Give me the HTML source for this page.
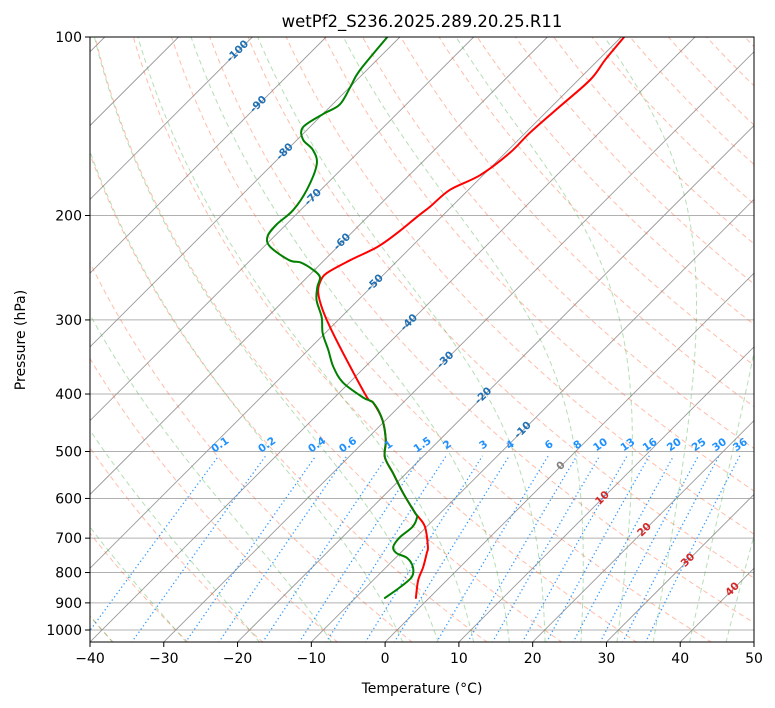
<!DOCTYPE html>
<html><head><meta charset="utf-8"><style>
body{margin:0;background:#fff;}
svg{display:block;font-family:"DejaVu Sans","Liberation Sans",sans-serif;}
</style></head><body>
<svg id="chart" width="775" height="708" viewBox="0 0 775 708">
<defs><clipPath id="plotclip"><rect x="90" y="37" width="664" height="605"/></clipPath></defs>
<rect x="0" y="0" width="775" height="708" fill="#fff"/>
<text x="422" y="27" text-anchor="middle" font-size="16.5" fill="#000">wetPf2_S236.2025.289.20.25.R11</text>
<g id="plot" clip-path="url(#plotclip)"></g>
<g id="labels"></g>
<rect x="90" y="37" width="664" height="605" fill="none" stroke="#000" stroke-width="1"/>
<g id="axes"></g>
<text x="422" y="693" text-anchor="middle" font-size="14">Temperature (°C)</text>
<text transform="translate(25,340) rotate(-90)" text-anchor="middle" font-size="14">Pressure (hPa)</text>
</svg>
<script>
// ---- data ----
const tempP = [883,824,783,742,724,670,645,635,587,544,511,478,442,414,406,360,316,289,270,259,250,238,226,214,201,193,181,171,157,145,131,118,109,100];
const tempT = [-1.8,-3.9,-5.0,-6.4,-7.1,-10.2,-12.4,-13.4,-17.8,-21.8,-25.1,-27.3,-30.5,-34.0,-35.5,-42.0,-48.9,-53.4,-56.4,-57.6,-57.9,-56.5,-54.6,-53.8,-53.3,-52.9,-52.5,-50.4,-49.4,-49.4,-48.9,-48.4,-49.1,-49.6];
const dewP = [883,847,814,783,756,742,724,697,670,645,635,587,544,511,478,442,414,406,383,360,337,316,297,278,264,254,247,240,238,226,217,207,196,181,164,155,149,142,135,130,121,114,100];
const dewT = [-6.0,-5.4,-5.2,-6.4,-8.4,-10.5,-11.8,-12.2,-11.9,-12.6,-13.4,-17.8,-21.8,-25.1,-27.3,-30.5,-34.0,-36.0,-40.8,-44.3,-47.3,-50.3,-52.6,-55.6,-57.3,-58.3,-60.2,-62.9,-64.7,-69.1,-70.9,-71.3,-71.0,-71.9,-74.0,-76.5,-79.2,-80.9,-80.0,-79.0,-80.0,-80.9,-81.7];
const xTicks = [-40,-30,-20,-10,0,10,20,30,40,50];
const yTicks = [100,200,300,400,500,600,700,800,900,1000];
const mixRatios = [0.1,0.2,0.4,0.6,1,1.5,2,3,4,6,8,10,13,16,20,25,30,36];
const isoLabelT = [-100,-90,-80,-70,-60,-50,-40,-30,-20,-10];
const isoLabelP = [105,129,155,185,220,258,301,348,400,457];
const adLabelT = [0,10,20,30,40];
const adLabelP = [525,595,673,757,848];

// ---- axes functions ----
const X0=90,X1=754,Y0=37,Y1=642,TMIN=-40,TMAX=50,PTOP=100,PBOT=1050;
const kx=(X1-X0)/(TMAX-TMIN), ky=593, SKEW=1.0;
function Y(p){return Y0+ky*Math.log10(p/PTOP);}
function X(T,p){return X0+(T-TMIN)*kx+(Y1-Y(p))*SKEW;}
const NS="http://www.w3.org/2000/svg";
const plot=document.getElementById('plot'), axes=document.getElementById('axes'), labels=document.getElementById('labels');
function mk(tag,attrs,parent){const e=document.createElementNS(NS,tag);for(const k in attrs)e.setAttribute(k,attrs[k]);parent.appendChild(e);return e;}
function pathFrom(Ts,Ps){let d='';for(let i=0;i<Ts.length;i++){d+=(i?'L':'M')+X(Ts[i],Ps[i]).toFixed(2)+','+Y(Ps[i]).toFixed(2);}return d;}
function smoothFrom(Ts,Ps){
  const pts=Ts.map((T,i)=>[X(T,Ps[i]),Y(Ps[i])]);
  let d='M'+pts[0][0].toFixed(2)+','+pts[0][1].toFixed(2);
  for(let i=0;i<pts.length-1;i++){
    const p0=pts[Math.max(0,i-1)],p1=pts[i],p2=pts[i+1],p3=pts[Math.min(pts.length-1,i+2)];
    const c1=[p1[0]+(p2[0]-p0[0])/6,p1[1]+(p2[1]-p0[1])/6],c2=[p2[0]-(p3[0]-p1[0])/6,p2[1]-(p3[1]-p1[1])/6];
    d+='C'+c1[0].toFixed(2)+','+c1[1].toFixed(2)+' '+c2[0].toFixed(2)+','+c2[1].toFixed(2)+' '+p2[0].toFixed(2)+','+p2[1].toFixed(2);
  }
  return d;}
const pres=[];for(let i=0;i<=120;i++)pres.push(PBOT*Math.pow(PTOP/PBOT,i/120));

yTicks.forEach(p=>{
  const l=mk('line',{x1:X0,x2:X1,y1:Y(p),y2:Y(p),stroke:'#b0b0b0','stroke-width':1},plot);
  
  
});
for(let T=-150;T<=50;T+=10){
  const l=mk('line',{x1:X(T,PBOT),y1:Y(PBOT),x2:X(T,PTOP),y2:Y(PTOP),stroke:'#999','stroke-width':0.9},plot);
  
  
}
for(let t0=-40;t0<=250;t0+=10){
  const Ts=pres.map(p=>(t0+273.15)*Math.pow(p/1000,0.2857)-273.15);
  const e=mk('path',{d:pathFrom(Ts,pres),fill:'none',stroke:'#ff5a2a','stroke-opacity':0.4,'stroke-width':1,'stroke-dasharray':'5,3.5'},plot);
  
  
}
function es(T){return 6.112*Math.exp(17.67*T/(T+243.5));}
function moistRate(T,p){const Tk=T+273.15,rs=0.622*es(T)/(p-es(T));const Rd=287.04,Cp=1005.7,Lv=2.501e6;
  return (Rd*Tk+Lv*rs)/(Cp+Lv*Lv*rs*0.622/(Rd*Tk*Tk))/p;}
function moist(t0){
  const out=[];
  pres.forEach(pt=>{let T=t0,p=1000;const n=60,dp=(pt-1000)/n;
    for(let i=0;i<n;i++){const k1=moistRate(T,p),k2=moistRate(T+k1*dp/2,p+dp/2),k3=moistRate(T+k2*dp/2,p+dp/2),k4=moistRate(T+k3*dp,p+dp);T+=dp*(k1+2*k2+2*k3+k4)/6;p+=dp;}
    out.push(T);});
  return out;}
const moistT0=[-40,-30,-20,-10,0,5,10,15,20,25,30,35,40,45,50];
moistT0.forEach(t0=>{
  const e=mk('path',{d:pathFrom(moist(t0),pres),fill:'none',stroke:'#2ca02c','stroke-opacity':0.35,'stroke-width':1,'stroke-dasharray':'5,3.5'},plot);
  
  
});
const mp=pres.filter(p=>p>=500);
function dewFromW(w,p){const e=w/1000*p/(0.622+w/1000);const l=Math.log(e/6.112);return 243.5*l/(17.67-l);}
mixRatios.forEach(w=>{
  const Ts=mp.map(p=>dewFromW(w,p));
  const e=mk('path',{d:pathFrom(Ts,mp),fill:'none',stroke:'#1e90ff','stroke-opacity':0.9,'stroke-width':1.3,'stroke-dasharray':'1.3,2.7'},plot);
  
  
  const x=X(dewFromW(w,500),500), y=Y(500)-4;
  const t=mk('text',{x:x,y:y,'font-size':10.5,'font-weight':'bold',fill:'#1e90ff','text-anchor':'middle',transform:`rotate(-35 ${x} ${y})`},labels);
  t.textContent=String(w);
  
  
});
isoLabelT.forEach((T,i)=>{
  const x=X(T,isoLabelP[i]), y=Y(isoLabelP[i])+4;
  const t=mk('text',{x:x,y:y,'font-size':10.5,'font-weight':'bold',fill:'#1f6fb4','text-anchor':'middle',transform:`rotate(-45 ${x} ${y})`},labels);
  t.textContent=String(T);
  
  
});
adLabelT.forEach((T,i)=>{
  const x=X(T,adLabelP[i]), y=Y(adLabelP[i])+4;
  const t=mk('text',{x:x,y:y,'font-size':10.5,'font-weight':'bold',fill:T===0?'#808080':'#d62728','text-anchor':'middle',transform:`rotate(-45 ${x} ${y})`},labels);
  t.textContent=String(T);
  
  
});
const tl=mk('path',{d:smoothFrom(tempT,tempP),fill:'none',stroke:'#ff0000','stroke-width':2,'stroke-linejoin':'round','stroke-linecap':'round'},plot);


const dl=mk('path',{d:smoothFrom(dewT,dewP),fill:'none',stroke:'#008000','stroke-width':2,'stroke-linejoin':'round','stroke-linecap':'round'},plot);


xTicks.forEach(T=>{
  const x=X0+(T-TMIN)*kx;
  const l=mk('line',{x1:x,x2:x,y1:Y1,y2:Y1+5,stroke:'#000'},axes);
  
  
  const t=mk('text',{x:x,y:Y1+21,'font-size':14,'text-anchor':'middle'},axes);
  t.textContent=String(T).replace('-','\u2212');
  
  
});
yTicks.forEach(p=>{
  const y=Y(p);
  const l=mk('line',{x1:X0-5,x2:X0,y1:y,y2:y,stroke:'#000'},axes);
  
  
  const t=mk('text',{x:X0-8,y:y+5,'font-size':14,'text-anchor':'end'},axes);
  t.textContent=String(p);
  
  
});
</script>
</body></html>
